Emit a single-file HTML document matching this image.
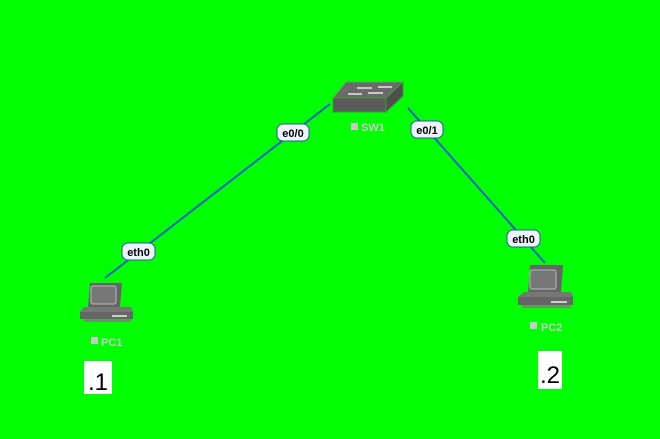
<!DOCTYPE html>
<html><head><style>
html,body{margin:0;padding:0;background:#00ff00;}
svg{display:block;}
text{font-family:"Liberation Sans",sans-serif;}
</style></head><body>
<svg width="660" height="439" viewBox="0 0 660 439" xmlns="http://www.w3.org/2000/svg">
<rect width="660" height="439" fill="#00ff00"/>
<line x1="330" y1="104" x2="105" y2="278" stroke="#1a5fd0" stroke-width="2"/>
<line x1="408" y1="108" x2="545" y2="263" stroke="#1a5fd0" stroke-width="2"/>
<!-- switch -->
<polygon points="346,82 403,82 386,98 333,98" fill="#6a6a6a" stroke="#55b055" stroke-width="1"/>
<rect x="333" y="98" width="53" height="14" fill="#5a5a5a" stroke="#3c9c3c" stroke-width="1"/>
<polygon points="386,98 403,82 403,96 386,112" fill="#4e4e4e" stroke="#3c9c3c" stroke-width="1"/>
<g stroke="#e8e8e8" stroke-width="1.5">
<line x1="357" y1="88" x2="372" y2="88"/><line x1="378" y1="87" x2="392" y2="87"/>
<line x1="348" y1="94" x2="362" y2="94"/><line x1="368" y1="93" x2="383" y2="93"/>
</g>
<rect x="351" y="123" width="7" height="7" fill="#c8c8c8"/>
<text x="361" y="131" font-size="11" fill="#c8c8c8" font-weight="bold">SW1</text>
<!-- PC1 -->
<g>
<polygon points="90,283 122,283 120,307 88,307" fill="#666"/>
<rect x="91" y="286" width="25" height="18" rx="2" fill="#777" stroke="#bbb" stroke-width="1"/>
<polygon points="84,307 131,307 133,312 80,312" fill="#777"/>
<rect x="80" y="312" width="53" height="7" fill="#666"/>
<rect x="112" y="315" width="15" height="2" fill="#ccc"/>
<rect x="84" y="319" width="47" height="3" fill="#5c9c5c"/>
<rect x="91" y="337" width="7" height="7" fill="#c8c8c8"/>
<text x="101" y="346" font-size="11" fill="#c8c8c8" font-weight="bold">PC1</text>
</g>
<!-- PC2 -->
<g>
<polygon points="530,265 563,265 561,293 528,293" fill="#666"/>
<rect x="530" y="270" width="26" height="19" rx="2" fill="#777" stroke="#bbb" stroke-width="1"/>
<polygon points="524,292 571,292 573,297 518,297" fill="#777"/>
<rect x="518" y="297" width="55" height="8" fill="#666"/>
<rect x="551" y="301" width="16" height="2" fill="#ccc"/>
<rect x="522" y="305" width="49" height="3" fill="#5c9c5c"/>
<rect x="530" y="322" width="7" height="7" fill="#c8c8c8"/>
<text x="541" y="331" font-size="11" fill="#c8c8c8" font-weight="bold">PC2</text>
</g>
<!-- labels -->
<g font-size="11" fill="#000" font-weight="bold">
<rect x="277" y="124" width="32" height="17" rx="6" fill="#eef4ff" stroke="#2a5a9a" stroke-width="1"/>
<text x="293" y="137" text-anchor="middle">e0/0</text>
<rect x="411" y="121" width="32" height="17" rx="6" fill="#eef4ff" stroke="#2a5a9a" stroke-width="1"/>
<text x="427" y="134" text-anchor="middle">e0/1</text>
<rect x="122" y="243" width="33" height="17" rx="6" fill="#eef4ff" stroke="#2a5a9a" stroke-width="1"/>
<text x="138.5" y="256" text-anchor="middle">eth0</text>
<rect x="507" y="230" width="33" height="17" rx="6" fill="#eef4ff" stroke="#2a5a9a" stroke-width="1"/>
<text x="523.5" y="243" text-anchor="middle">eth0</text>
</g>
<rect x="84" y="361" width="28" height="33" fill="#fff"/>
<text x="98" y="390" font-size="24" text-anchor="middle" fill="#000">.1</text>
<rect x="538" y="351" width="24" height="38" fill="#fff"/>
<text x="550" y="383" font-size="24" text-anchor="middle" fill="#000">.2</text>
</svg>
</body></html>
